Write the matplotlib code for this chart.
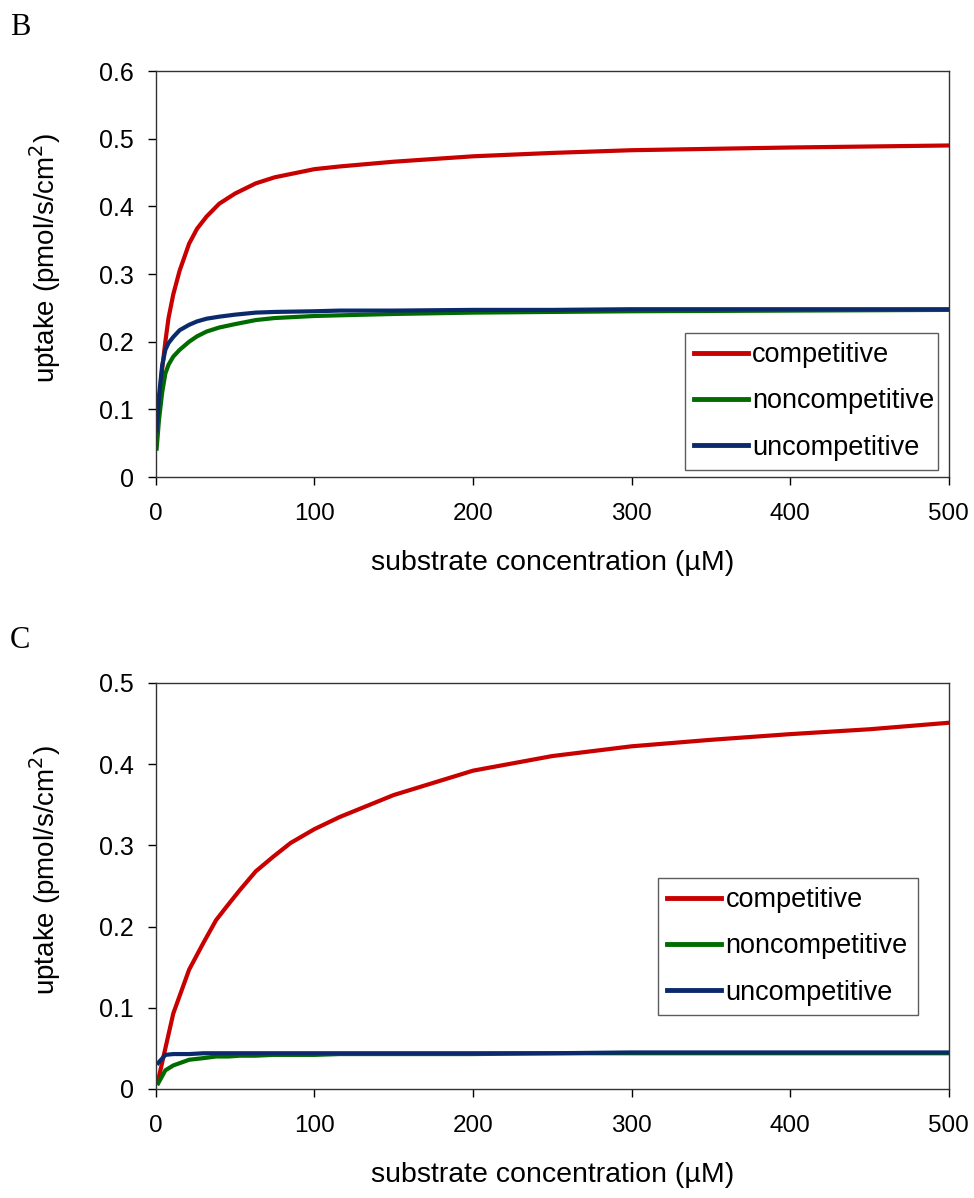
import matplotlib.pyplot as plt

# substrate concentrations (uM) where the curves were sampled
conc_b = [0.5, 2, 4, 6, 8, 11, 15, 21, 26, 32, 40, 50, 63, 75, 100, 116, 150, 200, 250, 300, 400, 500]
competitive_b = [0.06, 0.11, 0.16, 0.2, 0.235, 0.27, 0.305, 0.345, 0.367, 0.385, 0.404, 0.419, 0.434, 0.443, 0.455, 0.459, 0.466, 0.474, 0.479, 0.483, 0.487, 0.49]
noncompetitive_b = [0.042, 0.085, 0.125, 0.153, 0.166, 0.178, 0.188, 0.200, 0.208, 0.215, 0.221, 0.226, 0.232, 0.235, 0.238, 0.239, 0.241, 0.243, 0.244, 0.245, 0.246, 0.247]
uncompetitive_b = [0.069, 0.12, 0.165, 0.188, 0.198, 0.207, 0.217, 0.225, 0.230, 0.234, 0.237, 0.240, 0.243, 0.244, 0.245, 0.246, 0.246, 0.247, 0.247, 0.248, 0.248, 0.248]

conc_c = [1.5, 6, 11, 21, 30, 38, 46, 53, 63, 74, 85, 100, 116, 150, 200, 250, 300, 350, 400, 450, 500]
competitive_c = [0.011, 0.05, 0.093, 0.147, 0.18, 0.208, 0.228, 0.245, 0.268, 0.286, 0.303, 0.32, 0.335, 0.362, 0.392, 0.41, 0.422, 0.43, 0.437, 0.443, 0.451]
noncompetitive_c = [0.007, 0.023, 0.029, 0.036, 0.038, 0.040, 0.040, 0.041, 0.041, 0.042, 0.042, 0.042, 0.043, 0.043, 0.043, 0.044, 0.044, 0.044, 0.044, 0.044, 0.044]
uncompetitive_c = [0.032, 0.042, 0.043, 0.043, 0.044, 0.044, 0.044, 0.044, 0.044, 0.044, 0.044, 0.044, 0.044, 0.044, 0.044, 0.044, 0.045, 0.045, 0.045, 0.045, 0.045]

labels = ['competitive', 'noncompetitive', 'uncompetitive']
colors = ['#c80000', '#006c00', '#0b2a6b']

plt.rcParams['font.family'] = ['Liberation Sans', 'DejaVu Sans']

fig = plt.figure(figsize=(9.74, 11.98), dpi=100)


def panel(rect, x, series, ymax, letter, letter_y, leg_box):
    ax = fig.add_axes(rect)
    for y, lab, c in zip(series, labels, colors):
        ax.plot(x, y, color=c, lw=3.0, label=lab)
    ax.set_xlim(0, 500)
    ax.set_ylim(0, ymax)
    n = int(round(ymax * 10))
    ax.set_xticks([0, 100, 200, 300, 400, 500])
    ax.set_yticks([0.1 * i for i in range(n + 1)])
    ax.set_yticklabels(['0'] + ['%.1f' % (0.1 * i) for i in range(1, n + 1)])
    ax.tick_params(direction='out', length=6, width=1)
    ax.tick_params(axis='y', labelsize=18, pad=10)
    ax.tick_params(axis='x', labelsize=17.5, pad=13)
    for s in ax.spines.values():
        s.set_color('#333333')
        s.set_linewidth(1)
    ax.set_ylabel('uptake (pmol/s/cm$^2$)', fontsize=20)
    ax.yaxis.set_label_coords(-0.117, 0.54)
    ax.set_xlabel('substrate concentration (µM)', fontsize=20.5, labelpad=18)
    leg = ax.legend(loc='lower left', bbox_to_anchor=leg_box, mode='expand',
                    fontsize=19.5, frameon=True, fancybox=False, handlelength=2.0,
                    handletextpad=0.15, borderaxespad=0, borderpad=0.35,
                    labelspacing=0.75)
    for h in leg.get_lines():
        h.set_linewidth(3.5)
    leg.get_frame().set_edgecolor('#333333')
    leg.get_frame().set_linewidth(1)
    fig.text(0.010, letter_y, letter, family='Liberation Serif', fontsize=22, va='baseline')
    return ax


panel([0.160, 0.6018, 0.814, 0.3389], conc_b,
      [competitive_b, noncompetitive_b, uncompetitive_b], 0.6, 'B', 0.9708,
      (0.667, 0.017, 0.32, 0.3))
panel([0.160, 0.0910, 0.814, 0.3389], conc_c,
      [competitive_c, noncompetitive_c, uncompetitive_c], 0.5, 'C', 0.459,
      (0.633, 0.182, 0.328, 0.3))

fig.savefig('out.png', dpi=100)
